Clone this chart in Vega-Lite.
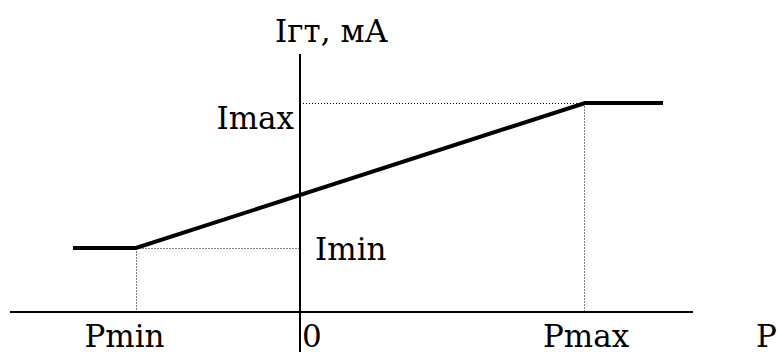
{
  "$schema": "https://vega.github.io/schema/vega-lite/v6.json",
  "width": 777,
  "height": 352,
  "padding": 0,
  "autosize": {"type": "none"},
  "background": "white",
  "config": {"view": {"stroke": null}, "text": {"font": "DejaVu Serif", "fontSize": 31, "baseline": "alphabetic", "color": "black"}},
  "datasets": {
    "lines": [
      {"seg": "curve", "kind": "main", "ord": 1, "p": -22.7, "i": 6.4},
      {"seg": "curve", "kind": "main", "ord": 2, "p": -16.4, "i": 6.4},
      {"seg": "curve", "kind": "main", "ord": 3, "p": 28.5, "i": 20.9},
      {"seg": "curve", "kind": "main", "ord": 4, "p": 36.3, "i": 20.9},
      {"seg": "xaxis", "kind": "axis", "ord": 1, "p": -29, "i": 0},
      {"seg": "xaxis", "kind": "axis", "ord": 2, "p": 39.3, "i": 0},
      {"seg": "yaxis", "kind": "axis", "ord": 1, "p": 0, "i": -4},
      {"seg": "yaxis", "kind": "axis", "ord": 2, "p": 0, "i": 25.8},
      {"seg": "pminv", "kind": "guide", "ord": 1, "p": -16.35, "i": 6.35},
      {"seg": "pminv", "kind": "guide", "ord": 2, "p": -16.35, "i": 0},
      {"seg": "iminh", "kind": "guide", "ord": 1, "p": -16.35, "i": 6.35},
      {"seg": "iminh", "kind": "guide", "ord": 2, "p": 0, "i": 6.35},
      {"seg": "imaxh", "kind": "guide", "ord": 1, "p": 0.3, "i": 20.85},
      {"seg": "imaxh", "kind": "guide", "ord": 2, "p": 28.5, "i": 20.85},
      {"seg": "pmaxv", "kind": "guide", "ord": 1, "p": 28.45, "i": 20.85},
      {"seg": "pmaxv", "kind": "guide", "ord": 2, "p": 28.45, "i": 0}
    ],
    "labels": [
      {"label": "Iгт, мА", "p": 3.15, "i": 27.0},
      {"label": "Imax", "p": -0.6, "i": 18.3},
      {"label": "Imin", "p": 1.5, "i": 5.2},
      {"label": "Pmin", "p": -17.55, "i": -3.5},
      {"label": "0", "p": 0.2, "i": -3.5},
      {"label": "Pmax", "p": 28.6, "i": -3.5},
      {"label": "P", "p": 45.6, "i": -3.5}
    ]
  },
  "encoding": {
    "x": {"field": "p", "type": "quantitative", "scale": {"domain": [-30, 47.7], "nice": false, "zero": false}, "axis": null},
    "y": {"field": "i", "type": "quantitative", "scale": {"domain": [-4, 31.2], "nice": false, "zero": false}, "axis": null}
  },
  "layer": [
    {
      "data": {"name": "lines"},
      "transform": [{"filter": "datum.kind === 'guide'"}],
      "mark": {"type": "line", "color": "black", "strokeWidth": 1, "strokeDash": [1, 2]},
      "encoding": {"detail": {"field": "seg"}, "order": {"field": "ord"}}
    },
    {
      "data": {"name": "lines"},
      "transform": [{"filter": "datum.kind === 'axis'"}],
      "mark": {"type": "line", "color": "black", "strokeWidth": 2},
      "encoding": {"detail": {"field": "seg"}, "order": {"field": "ord"}}
    },
    {
      "data": {"name": "lines"},
      "transform": [{"filter": "datum.kind === 'main'"}],
      "mark": {"type": "line", "color": "black", "strokeWidth": 4, "strokeJoin": "miter"},
      "encoding": {"detail": {"field": "seg"}, "order": {"field": "ord"}}
    },
    {
      "data": {"name": "labels"},
      "transform": [{"filter": "datum.label === 'Imin' || datum.label === '0' || datum.label === 'P'"}],
      "mark": {"type": "text", "align": "left"},
      "encoding": {"text": {"field": "label"}}
    },
    {
      "data": {"name": "labels"},
      "transform": [{"filter": "datum.label === 'Imax'"}],
      "mark": {"type": "text", "align": "right"},
      "encoding": {"text": {"field": "label"}}
    },
    {
      "data": {"name": "labels"},
      "transform": [{"filter": "datum.label === 'Pmin' || datum.label === 'Pmax' || datum.label === 'Iгт, мА'"}],
      "mark": {"type": "text", "align": "center"},
      "encoding": {"text": {"field": "label"}}
    }
  ]
}
